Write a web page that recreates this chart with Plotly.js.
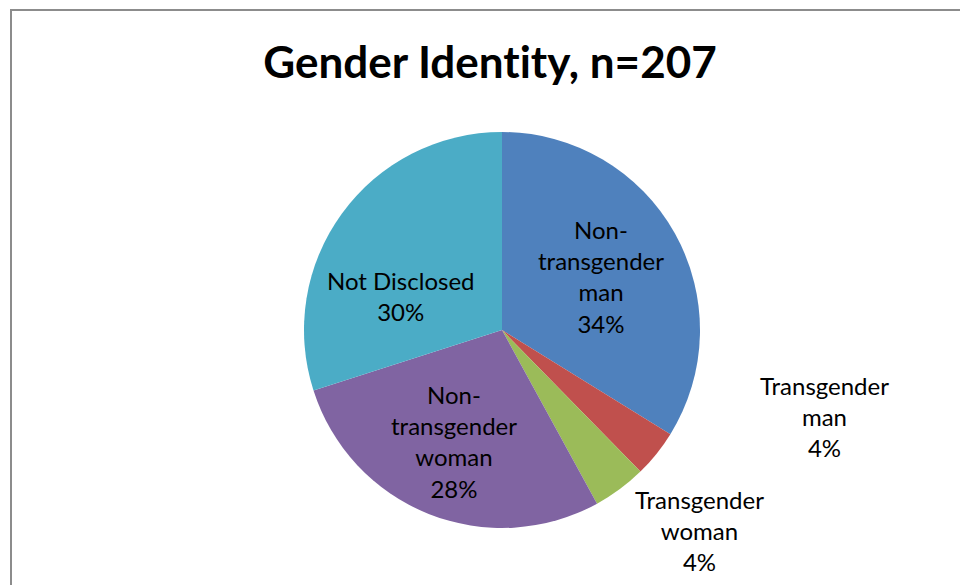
<!DOCTYPE html>
<html>
<head>
<meta charset="utf-8">
<script src="https://cdn.plot.ly/plotly-3.0.1.min.js"></script>
<style>
html,body{margin:0;padding:0;background:#fff;}
#chart{width:960px;height:585px;}
#chart text, #chart tspan{font-variant-ligatures:none !important;font-feature-settings:"liga" 0,"clig" 0,"calt" 0,"dlig" 0 !important;}
</style>
</head>
<body>
<div id="chart"></div>
<script>
const titleText = "Gender Identity, n=207";
const categories = ["Non-transgender man", "Transgender man", "Transgender woman", "Non-transgender woman", "Not Disclosed"];
const displayLabels = ["Non-<br>transgender<br>man", "Transgender<br>man", "Transgender<br>woman", "Non-<br>transgender<br>woman", "Not Disclosed"];
const counts = [70, 8, 9, 58, 62];
const colors = ["#4F81BD", "#C0504D", "#9BBB59", "#8064A2", "#4BACC6"];

const total = counts.reduce((a, b) => a + b, 0);
const pct = counts.map(v => Math.round(v / total * 100) + "%");

const W = 960, H = 585;
const cx = 502, cy = 330, R = 198;
// label centres (pixels), same order as categories
const labelPos = [[601, 276], [824, 416], [699, 530], [454, 441], [401, 296]];
const labelFont = {family: "Lato, 'Noto Sans', sans-serif", size: 24, color: "#000"};

const trace = {
  type: "pie",
  labels: categories,
  values: counts,
  textinfo: "none",
  hoverinfo: "label+value+percent",
  sort: false,
  direction: "clockwise",
  rotation: 0,
  marker: {colors: colors, line: {width: 0}},
  domain: {x: [(cx - R) / W, (cx + R) / W], y: [1 - (cy + R) / H, 1 - (cy - R) / H]},
  showlegend: false
};

const annotations = categories.map((c, i) => ({
  xref: "paper", yref: "paper",
  x: labelPos[i][0] / W, y: 1 - labelPos[i][1] / H,
  xanchor: "center", yanchor: "middle",
  text: displayLabels[i] + "<br>" + pct[i],
  showarrow: false,
  align: "center",
  font: labelFont
}));

const layout = {
  width: W, height: H,
  margin: {l: 0, r: 0, t: 0, b: 0},
  paper_bgcolor: "#fff",
  title: {
    text: "<b>" + titleText + "</b>",
    x: 490 / W, xanchor: "center",
    y: 1 - 63 / H, yanchor: "middle",
    font: {family: "Lato, 'Noto Sans', sans-serif", size: 44, color: "#000"}
  },
  shapes: [{
    type: "rect", xref: "paper", yref: "paper",
    x0: 11 / W, x1: 1.05, y0: -0.05, y1: 1 - 10 / H,
    line: {color: "#8c8c8c", width: 2}
  }],
  annotations: annotations
};

Plotly.newPlot("chart", [trace], layout, {displayModeBar: false, staticPlot: true});
</script>
</body>
</html>
